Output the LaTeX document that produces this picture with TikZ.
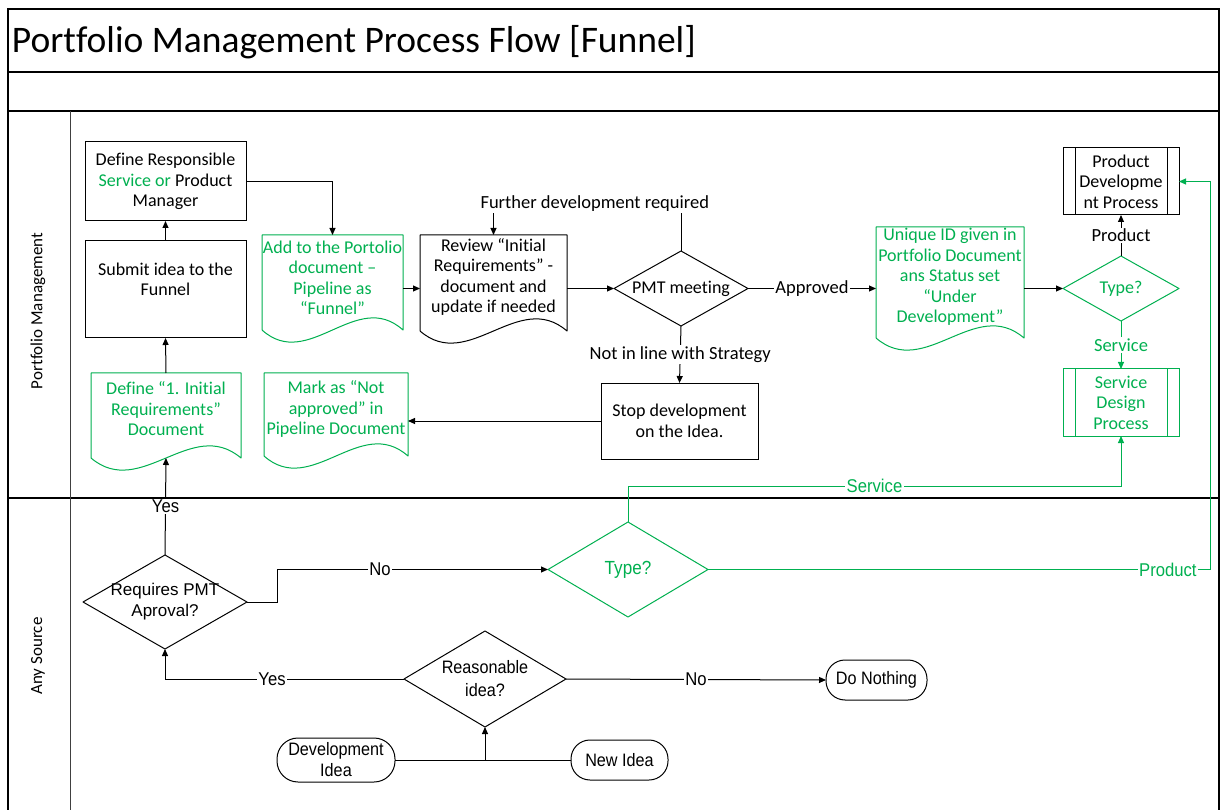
\documentclass[tikz,border=0pt]{standalone}
\usepackage{fontspec}
\setmainfont{Carlito}[Ligatures={NoCommon}]
\newfontfamily\arialfont{Liberation Sans}
\newfontfamily\narrowfont[FakeStretch=0.9]{Liberation Sans}
\usetikzlibrary{arrows.meta,calc}
\definecolor{grn}{RGB}{0,176,80}

% document outline: straight top and sides, wavy bottom dropped by #3 below the node
\newcommand{\docoutline}[3]{%
  \draw[#2, line width=1pt, line join=round]
    ($(#1.south west)+(0,#3)$) -- (#1.north west) -- (#1.north east) -- ($(#1.south east)+(0,#3)$)
    .. controls ($(#1.south east)!0.33!(#1.south west)+(0,#3-42)$)
       and ($(#1.south east)!0.67!(#1.south west)+(0,#3+42)$) .. ($(#1.south west)+(0,#3)$);}
% decision outline through the four anchors of a rectangular node
\newcommand{\diaoutline}[2]{%
  \draw[#2, line width=1pt, line join=round] (#1.north) -- (#1.east) -- (#1.south) -- (#1.west) -- cycle;}
% predefined-process side bars
\newcommand{\subbars}[2]{%
  \draw[#2, line width=1pt] ($(#1.north west)+(12,0)$) -- ($(#1.south west)+(12,0)$);
  \draw[#2, line width=1pt] ($(#1.north east)+(-12,0)$) -- ($(#1.south east)+(-12,0)$);}

\begin{document}
\begin{tikzpicture}[x=1pt,y=-1pt,
  every node/.style={inner sep=0pt, outer sep=0pt},
  txt/.style={font=\fontsize{18}{20.5}\selectfont, align=center},
  procbox/.style={txt, draw, line width=1pt},
  plain/.style={txt},
  pill/.style={font=\narrowfont\fontsize{18}{21}\selectfont, align=center, draw, line width=1pt},
  frame/.style={line width=1.4pt, black},
  conn/.style={draw, line width=1pt},
  arr/.style={conn, -{Triangle[length=7pt,width=6pt]}},
  garr/.style={draw=grn, line width=1pt, -{Triangle[length=7pt,width=6pt]}},
  lbl/.style={fill=white, inner sep=1.5pt, font=\fontsize{18.5}{20.5}\selectfont},
  nlbl/.style={fill=white, inner sep=1.5pt, font=\narrowfont\fontsize{18.5}{21}\selectfont},
]
\useasboundingbox (0,0) rectangle (1224,810);
\fill[white] (0,0) rectangle (1224,810);

% swimlane frame
\draw[frame] (8,815) -- (8,9) -- (1219,9) -- (1219,815);
\draw[frame] (8,72) -- (1219,72);
\draw[frame] (8,111) -- (1219,111);
\draw[frame] (8,498) -- (1219,498);
\draw[line width=1pt, black!75] (70,111) -- (70,815);

\node[anchor=base west, font=\fontsize{37.5}{40}\selectfont] (title) at (12,53) {Portfolio Management Process Flow [Funnel]};
\node[rotate=90, font=\fontsize{17}{20}\selectfont] (lanepm) at (38,311) {Portfolio Management};
\node[rotate=90, font=\fontsize{17}{20}\selectfont] (lanesrc) at (38,656) {Any Source};

% ---------- Portfolio Management lane ----------
\node[procbox, minimum width=161, minimum height=79] (defresp) at (165.5,181.5)
  {Define Responsible\\\textcolor{grn}{Service or} Product\\Manager};
% an empty last line lifts the two text lines above the box centre
\node[procbox, minimum width=161, minimum height=97] (submit) at (165.5,289.5)
  {Submit idea to the\\Funnel\\\mbox{}};

\node[plain, text=grn, minimum width=141, minimum height=86] (add) at (332.5,278)
  {Add to the Portolio\\document –\\Pipeline as\\“Funnel”};
\docoutline{add}{grn}{9}
\node[plain, minimum width=147, minimum height=84] (review) at (493.5,277)
  {Review “Initial\\Requirements” -\\document and\\update if needed};
\docoutline{review}{black}{12}

\node[plain, minimum width=134, minimum height=75] (pmt) at (681,288.5) {PMT meeting};
\diaoutline{pmt}{black}

\node[procbox, minimum width=157, minimum height=76] (stop) at (679.5,421)
  {Stop development\\on the Idea.};

\node[plain, text=grn, minimum width=144, minimum height=72] (mark) at (336,409)
  {Mark as “Not\\approved” in\\Pipeline Document};
\docoutline{mark}{grn}{11}
\node[plain, text=grn, minimum width=150, minimum height=72] (defir) at (166,409)
  {Define “1. Initial\\Requirements”\\Document};
\docoutline{defir}{grn}{13}

\node[plain, text=grn, minimum width=148, minimum height=100] (unique) at (950,277)
  {Unique ID given in\\Portfolio Document\\ans Status set\\“Under\\Development”};
\docoutline{unique}{grn}{11}

\node[plain, text=grn, minimum width=116, minimum height=65] (type1) at (1121,288.5) {Type?};
\diaoutline{type1}{grn}

\node[procbox, minimum width=116, minimum height=67] (proddev) at (1121,181.5)
  {Product\\Developme\\nt Process};
\subbars{proddev}{black}
\node[procbox, draw=grn, text=grn, minimum width=116, minimum height=67] (servdes) at (1121,402.5)
  {Service\\Design\\Process};
\subbars{servdes}{grn}

% ---------- Any Source lane ----------
\node[font=\arialfont\fontsize{17}{21}\selectfont, align=center, minimum width=164, minimum height=94] (req) at (165,602)
  {Requires PMT\\Aproval?};
\diaoutline{req}{black}
\node[font=\narrowfont\fontsize{19}{22}\selectfont, text=grn, minimum width=160, minimum height=95] (type2) at (628,569.5) {Type?};
\diaoutline{type2}{grn}
\node[font=\narrowfont\fontsize{18}{23}\selectfont, align=center, minimum width=162, minimum height=96] (reas) at (485,679)
  {Reasonable\\idea?};
\diaoutline{reas}{black}

\node[pill, minimum width=101, minimum height=40, rounded corners=19] (donothing) at (876.5,680) {Do Nothing};
\node[pill, minimum width=118, minimum height=44, rounded corners=21] (devidea) at (336,760) {Development\\Idea};
\node[pill, minimum width=97, minimum height=40, rounded corners=19] (newidea) at (619.5,760) {New Idea};

% helper coordinates for routed connectors
\coordinate (furtherY) at (0,204);
\coordinate (serviceY) at (0,486);
\coordinate (prodX) at (1210,0);
\coordinate (junc) at (reas.south |- devidea.east);

% ---------- connectors ----------
\draw[arr] (submit.north) -- (defresp.south);
\draw[arr] (defir.north) -- (submit.south);
\draw[arr] (defresp.east) -| (add.north);
\draw[arr] (add.east |- pmt.west) -- (review.west |- pmt.west);
\draw[arr] (review.east |- pmt.west) -- (pmt.west);
\draw[arr] (pmt.north) |- (review.north |- furtherY)
  node[lbl, pos=0.73] {Further development required} -- (review.north);
\draw[arr] (pmt.east) -- (unique.west |- pmt.east) node[lbl, midway] {Approved};
\draw[arr] (pmt.south) -- (stop.north) node[lbl, midway] {Not in line with Strategy};
\draw[arr] (stop.west) -- (mark.east |- stop.west);
\draw[arr] (unique.east |- type1.west) -- (type1.west);
\draw[arr] (type1.north) -- (proddev.south) node[lbl, midway] {Product};
\draw[garr] (type1.south) -- (servdes.north) node[lbl, midway, text=grn] {Service};

\draw[conn] (devidea.east) -- (junc);
\draw[arr] (newidea.west) -- (junc) -- (reas.south);
\draw[arr] (reas.west) -| (req.south) node[nlbl, pos=0.276] {Yes};
\draw[arr] (reas.east) -- (donothing.west) node[nlbl, midway] {No};
\draw[arr] (req.east) -- ++(30,0) |- (type2.west) node[nlbl, pos=0.69] {No};
\draw[arr] (req.north) -- ($(defir.south)+(0,13)$) node[nlbl, midway] {Yes};
\draw[garr] (type2.north) |- (servdes.south |- serviceY)
  node[nlbl, text=grn, pos=0.75] {Service} -- (servdes.south);
\draw[garr] (type2.east) -| (prodX |- proddev.east)
  node[nlbl, text=grn, pos=0.458] {Product} -- (proddev.east);
\end{tikzpicture}
\end{document}
